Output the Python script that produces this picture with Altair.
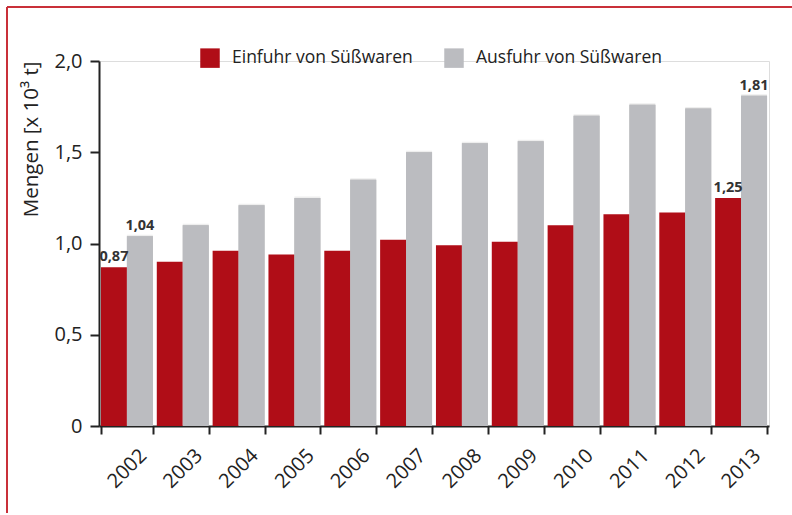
import altair as alt
import pandas as pd

years = [str(y) for y in range(2002, 2014)]
einfuhr = [0.87, 0.90, 0.96, 0.94, 0.96, 1.02, 0.99, 1.01, 1.10, 1.16, 1.17, 1.25]
ausfuhr = [1.04, 1.10, 1.21, 1.25, 1.35, 1.50, 1.55, 1.56, 1.70, 1.76, 1.74, 1.81]
series = ["Einfuhr von Süßwaren", "Ausfuhr von Süßwaren"]
labelled_years = ["2002", "2013"]
colors = ["#b00d17", "#bbbcc0"]

rows = []
for i, y in enumerate(years):
    rows.append({"year": y, "series": series[0], "value": einfuhr[i], "order": 0})
    rows.append({"year": y, "series": series[1], "value": ausfuhr[i], "order": 1})
df = pd.DataFrame(rows)
df["label"] = [
    (f"{v:.2f}".replace(".", ",") if y in labelled_years else "")
    for y, v in zip(df["year"], df["value"])
]

FONT = "Open Sans"

xenc = alt.X(
    "year:N",
    title=None,
    scale=alt.Scale(paddingInner=0.07, paddingOuter=0.035),
    axis=alt.Axis(
        labelAngle=-45,
        labelFontSize=20,
        labelColor="#222",
        labelFont=FONT,
        labelPadding=11,
        labelOffset=9,
        labelLimit=200,
        tickBand="extent",
        tickSize=8,
        tickWidth=2,
        tickColor="#222",
        domainColor="#222",
        domainWidth=2,
    ),
)
yenc = alt.Y(
    "value:Q",
    title="Mengen [x 10³ t]",
    scale=alt.Scale(domain=[0, 2], nice=False),
    axis=alt.Axis(
        values=[0, 0.5, 1.0, 1.5, 2.0],
        labelExpr="datum.value == 0 ? '0' : replace(format(datum.value, '.1f'), '.', ',')",
        labelFontSize=20,
        labelColor="#222",
        labelFont=FONT,
        labelPadding=8,
        tickSize=9,
        tickWidth=2,
        tickColor="#222",
        domainColor="#222",
        domainWidth=2,
        grid=False,
        titleFontSize=20.5,
        titleFont=FONT,
        titleFontWeight="normal",
        titleColor="#222",
        titleAnchor="end",
        titlePadding=12,
    ),
)
xoff = alt.XOffset("series:N", sort=series, scale=alt.Scale(paddingInner=0))
color = alt.Color(
    "series:N",
    sort=series,
    scale=alt.Scale(domain=series, range=colors),
    legend=alt.Legend(
        title=None,
        orient="none",
        legendX=101,
        legendY=-13,
        direction="horizontal",
        symbolType="square",
        symbolSize=380,
        symbolStrokeWidth=0,
        symbolOpacity=1,
        labelFontSize=17.5,
        labelFont=FONT,
        labelColor="#222",
        labelOffset=12,
        labelLimit=400,
        columnPadding=31,
    ),
)

base = alt.Chart(df)

shadow2 = base.transform_filter(alt.datum.order == 1).mark_bar(
    color="#555", opacity=0.1, xOffset=5, yOffset=-1.5
).encode(x=xenc, xOffset=xoff, y=yenc)
shadow1 = base.transform_filter(alt.datum.order == 1).mark_bar(
    color="#555", opacity=0.35, xOffset=2.5, yOffset=0
).encode(x=xenc, xOffset=xoff, y=yenc)

bars = base.mark_bar().encode(
    x=xenc, xOffset=xoff, y=yenc, color=color
)

text = base.mark_text(
    baseline="bottom", dy=-3, fontSize=14.5, fontWeight="bold", font=FONT, color="#333"
).encode(x=xenc, xOffset=xoff, y=yenc, text="label:N")

border_left = alt.Chart(df).mark_rule(color="#c8303a", strokeWidth=1.5).encode(
    x=alt.value(-92), y=alt.value(-54), y2=alt.value(452)
)
border_top = alt.Chart(df).mark_rule(color="#c8303a", strokeWidth=1.5).encode(
    x=alt.value(-92), x2=alt.value(700), y=alt.value(-54)
)

chart = (
    alt.layer(shadow2, shadow1, bars, text, border_left, border_top)
    .properties(
        width=670,
        height=365,
        autosize=alt.AutoSizeParams(type="none"),
        padding={"left": 99, "top": 61, "right": 23, "bottom": 89},
    )
    .configure_view(stroke=None)
    .configure(font=FONT)
)

chart.save("out.html", embed_options={"renderer": "svg", "actions": False})
